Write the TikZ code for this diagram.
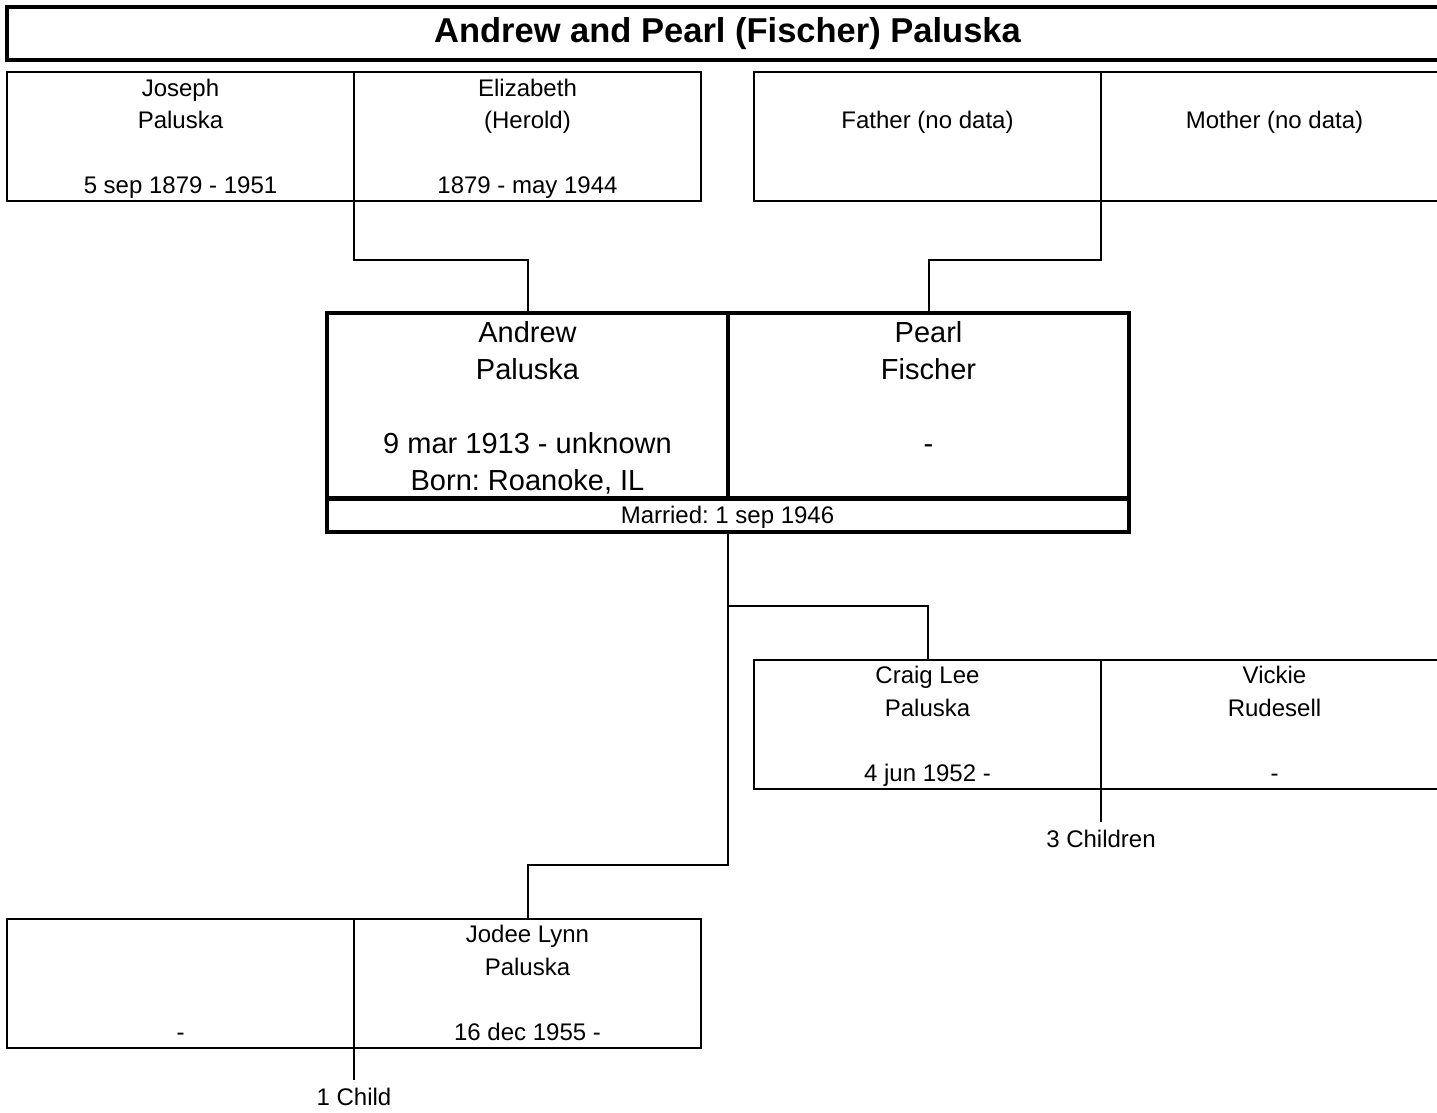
\documentclass[tikz,border=0pt]{standalone}
\usepackage{fontspec}
\setmainfont{Liberation Sans}
\usepackage{tikz}
\usetikzlibrary{positioning}
\frenchspacing

\newcommand{\rowstrut}{\rule[-0.3em]{0pt}{1.3em}}

\begin{document}
\begin{tikzpicture}[x=1pt, y=-1pt,
			headbox/.style={draw, line width=4pt, minimum width=1441pt, minimum height=53pt, inner sep=0pt, outer sep=0pt, font=\fontsize{34.5}{40}\selectfont\bfseries},
			person/.style={draw, line width=2pt, rectangle, minimum width=347pt, minimum height=129pt, inner sep=0pt, outer sep=0pt, align=center, font=\fontsize{24}{32.5}\selectfont},
			couple/.style={draw, line width=4pt, rectangle, minimum width=401pt, minimum height=184pt, inner sep=0pt, outer sep=0pt, align=center, font=\fontsize{29}{37}\selectfont},
			married/.style={draw, line width=4pt, rectangle, minimum width=802pt, minimum height=34pt, inner sep=0pt, outer sep=0pt, font=\fontsize{24}{32.5}\selectfont},
			kidcount/.style={inner xsep=0pt, inner ysep=9pt, outer sep=0pt, anchor=north, font=\fontsize{24}{32.5}\selectfont},
			link/.style={line width=2pt}
			]
			\clip (0,0) rectangle (1437,1112);
			
			\node [headbox](head) at (727.5,33.5) {Andrew and Pearl (Fischer) Paluska};
			
			% grandparents
			\node [person](gpa1) at (180.5,136.5) {\rowstrut Joseph\\Paluska\\\mbox{}\\5 sep 1879 - 1951\rowstrut};
			\node [person](gma1) [right=0pt of gpa1] {\rowstrut Elizabeth\\(Herold)\\\mbox{}\\1879 - may 1944\rowstrut};
			
			\node [person](gpa2) at (927.5,136.5) {\rowstrut\\Father (no data)\\\mbox{}\\\mbox{}\rowstrut};
			\node [person](gma2) [right=0pt of gpa2] {\rowstrut\\Mother (no data)\\\mbox{}\\\mbox{}\rowstrut};
			
			% the couple
			\node [couple](andrew) at (527.5,406) {\rowstrut Andrew\\Paluska\\\mbox{}\\9 mar 1913 - unknown\\Born: Roanoke, IL\rowstrut};
			\node [couple](pearl) [right=0pt of andrew] {\rowstrut Pearl\\Fischer\\\mbox{}\\-\\\mbox{}\rowstrut};
			\node [married](band) at (727.5,515) {\rowstrut Married: 1 sep 1946};
			
			% children
			\node [person](craig) at (927.5,724) {\rowstrut Craig Lee\\Paluska\\\mbox{}\\4 jun 1952 -\rowstrut};
			\node [person](vickie) [right=0pt of craig] {\rowstrut Vickie\\Rudesell\\\mbox{}\\-\rowstrut};
			
			\node [person](jodee) at (527.5,983) {\rowstrut Jodee Lynn\\Paluska\\\mbox{}\\16 dec 1955 -\rowstrut};
			\node [person](jspouse) [left=0pt of jodee] {\rowstrut\\\mbox{}\\\mbox{}\\-\rowstrut};
			
			\node [kidcount](kids3) [below=33pt of craig.south east] {3 Children};
			\node [kidcount](kids1) [below=32pt of jspouse.south east] {1 Child};
			
			\draw[link] (gpa1.south east) -- ++(0,59) -| (andrew.north);
			\draw[link] (gpa2.south east) -- ++(0,59) -| (pearl.north);
			
			\draw[link] (band.south) -- ++(0,74) -| (craig.north);
			\draw[link] (band.south) -- ++(0,333) -| (jodee.north);
			
			\draw[link] (craig.south east) -- (kids3.north);
			\draw[link] (jspouse.south east) -- (kids1.north);
			
		\end{tikzpicture}
\end{document}
